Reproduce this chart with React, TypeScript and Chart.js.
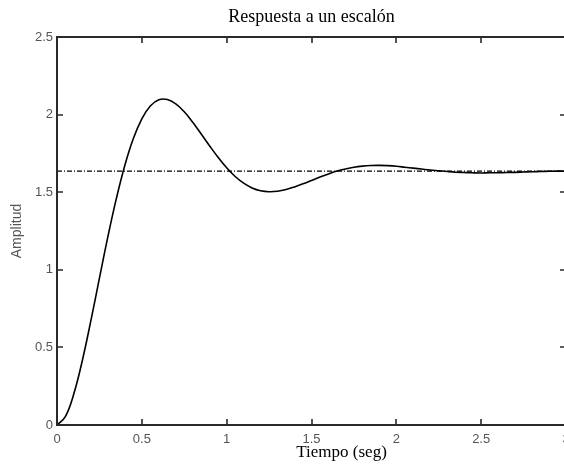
import React, { useEffect, useRef } from 'react';
import { Chart, registerables } from 'chart.js';

Chart.register(...registerables);

const TITLE = 'Respuesta a un escalón';
const X_LABEL = 'Tiempo (seg)';
const Y_LABEL = 'Amplitud';

const X_TICKS = [0, 0.5, 1, 1.5, 2, 2.5, 3];
const Y_TICKS = [0, 0.5, 1, 1.5, 2, 2.5];

const TIME = [
  0, 0.05, 0.1, 0.15, 0.2, 0.25, 0.3, 0.35, 0.4, 0.45,
  0.5, 0.55, 0.6, 0.65, 0.7, 0.75, 0.8, 0.85, 0.9, 0.95,
  1.0, 1.05, 1.1, 1.15, 1.2, 1.25, 1.3, 1.35, 1.4, 1.45,
  1.5, 1.55, 1.6, 1.65, 1.7, 1.75, 1.8, 1.85, 1.9, 1.95,
  2.0, 2.05, 2.1, 2.15, 2.2, 2.25, 2.3, 2.35, 2.4, 2.45,
  2.5, 2.55, 2.6, 2.65, 2.7, 2.75, 2.8, 2.85, 2.9, 2.95, 3.0,
];

const AMPLITUDE = [
  0, 0.055, 0.204, 0.419, 0.674, 0.946, 1.214, 1.46, 1.674, 1.846,
  1.973, 2.055, 2.095, 2.097, 2.069, 2.018, 1.951, 1.875, 1.798, 1.724,
  1.657, 1.601, 1.558, 1.527, 1.509, 1.503, 1.506, 1.517, 1.534, 1.554,
  1.576, 1.598, 1.618, 1.636, 1.65, 1.661, 1.668, 1.672, 1.673, 1.671,
  1.667, 1.661, 1.655, 1.649, 1.643, 1.638, 1.633, 1.629, 1.627, 1.625,
  1.624, 1.625, 1.625, 1.627, 1.628, 1.63, 1.632, 1.633, 1.635, 1.636, 1.636,
];

const STEADY_STATE = 1.636;

const framePlugin = {
  id: 'matlabFrame',
  afterDatasetsDraw(chart: any) {
    const { ctx, chartArea, scales } = chart;
    const { left, right, top, bottom } = chartArea;
    const x = scales.x;
    const y = scales.y;
    ctx.save();
    ctx.strokeStyle = '#2a2a2a';
    ctx.lineWidth = 2;
    ctx.strokeRect(left, top, right - left, bottom - top);
    ctx.lineWidth = 1.6;
    ctx.beginPath();
    X_TICKS.forEach((v) => {
      const px = Math.round(x.getPixelForValue(v));
      ctx.moveTo(px, bottom);
      ctx.lineTo(px, bottom - 6);
      ctx.moveTo(px, top);
      ctx.lineTo(px, top + 6);
    });
    Y_TICKS.forEach((v) => {
      const py = Math.round(y.getPixelForValue(v));
      ctx.moveTo(left, py);
      ctx.lineTo(left + 6, py);
      ctx.moveTo(right, py);
      ctx.lineTo(right - 6, py);
    });
    ctx.stroke();
    ctx.font = '17px "Liberation Serif"';
    ctx.fillStyle = '#000';
    ctx.textAlign = 'center';
    ctx.textBaseline = 'alphabetic';
    ctx.fillText(X_LABEL, left + (right - left) * 0.559, bottom + 32);
    ctx.restore();
  },
};

const fmt = (v: any) => `${Math.round(Number(v) * 10) / 10}`;

export default function App() {
  const canvasRef = useRef<HTMLCanvasElement | null>(null);

  useEffect(() => {
    const canvas = canvasRef.current;
    if (!canvas) return;
    const response = TIME.map((t, i) => ({ x: t, y: AMPLITUDE[i] }));
    const steady = [
      { x: TIME[0], y: STEADY_STATE },
      { x: TIME[TIME.length - 1], y: STEADY_STATE },
    ];
    const chart = new Chart(canvas, {
      type: 'line',
      data: {
        datasets: [
          {
            data: steady,
            borderColor: '#000',
            borderWidth: 1.2,
            borderDash: [5, 2, 1, 2],
            pointRadius: 0,
            fill: false,
            order: 2,
          },
          {
            data: response,
            borderColor: '#000',
            borderWidth: 1.6,
            pointRadius: 0,
            fill: false,
            tension: 0.4,
            order: 1,
          },
        ],
      },
      options: {
        responsive: false,
        animation: false,
        devicePixelRatio: 1,
        layout: { padding: { left: 0, right: 34, top: 0, bottom: 0 } },
        plugins: {
          legend: { display: false },
          tooltip: { enabled: false },
          title: {
            display: true,
            fullSize: false,
            text: TITLE,
            color: '#000',
            font: { family: '"Liberation Serif"', size: 18, weight: 'normal' },
            padding: { top: 6, bottom: 9.4 },
          },
        },
        scales: {
          x: {
            type: 'linear',
            min: 0,
            max: 3,
            grid: { display: false, drawTicks: false },
            border: { display: false },
            ticks: {
              stepSize: 0.5,
              padding: 7,
              color: '#555',
              font: { family: '"Liberation Sans"', size: 13 },
              maxRotation: 0,
              callback: fmt,
            },
            afterFit(scale: any) {
              scale.height = 44;
              scale.paddingLeft = 0;
              scale.paddingRight = 0;
            },
          },
          y: {
            type: 'linear',
            min: 0,
            max: 2.5,
            grid: { display: false, drawTicks: false },
            border: { display: false },
            ticks: {
              stepSize: 0.5,
              padding: 4,
              color: '#555',
              font: { family: '"Liberation Sans"', size: 13 },
              callback: fmt,
            },
            title: {
              display: true,
              text: Y_LABEL,
              color: '#555',
              font: { family: '"Liberation Sans"', size: 14 },
              padding: { top: 9, bottom: 0 },
            },
            afterFit(scale: any) {
              scale.width = 57;
              scale.paddingTop = 0;
              scale.paddingBottom = 0;
            },
          },
        },
      },
      plugins: [framePlugin],
    });
    return () => chart.destroy();
  }, []);

  return (
    <div
      style={{
        position: 'fixed',
        left: 0,
        top: 0,
        width: 564,
        height: 469,
        overflow: 'hidden',
        background: '#fff',
      }}
    >
      <canvas
        ref={canvasRef}
        width={600}
        height={469}
        style={{ display: 'block', width: 600, height: 469 }}
      />
    </div>
  );
}
